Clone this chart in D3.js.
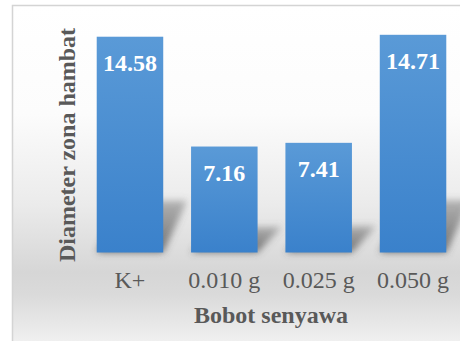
<!DOCTYPE html>
<html>
<head>
<meta charset="utf-8">
<script src="https://cdn.jsdelivr.net/npm/d3@7/dist/d3.min.js"></script>
<style>
  html, body { margin: 0; padding: 0; background: #ffffff; }
  svg { display: block; }
</style>
</head>
<body>
<script>
// Inhibition zone diameter by compound weight
const categories = ["K+", "0.010 g", "0.025 g", "0.050 g"];
const values = [14.58, 7.16, 7.41, 14.71];
const xTitle = "Bobot senyawa";
const yTitle = "Diameter zona hambat";

const W = 460, H = 341;
const svg = d3.select("body").append("svg")
  .attr("width", W).attr("height", H);

const defs = svg.append("defs");

// chart-area background: white on top, grey band at the floor, fading out below
const bg = defs.append("linearGradient").attr("id", "bgGrad")
  .attr("x1", 0).attr("y1", 0).attr("x2", 0).attr("y2", 1);
[[0, "#ffffff"], [0.3, "#fcfcfc"], [0.55, "#ebebeb"], [0.74, "#d6d6d6"], [0.8, "#dadada"], [1, "#fbfbfb"]]
  .forEach(([o, c]) => bg.append("stop").attr("offset", o).attr("stop-color", c));

const barGrad = defs.append("linearGradient").attr("id", "barGrad")
  .attr("x1", 0).attr("y1", 0).attr("x2", 0).attr("y2", 1);
barGrad.append("stop").attr("offset", 0).attr("stop-color", "#5a9ad7");
barGrad.append("stop").attr("offset", 1).attr("stop-color", "#3a81cb");

const blur = defs.append("filter").attr("id", "shadowBlur")
  .attr("x", "-50%").attr("y", "-50%").attr("width", "200%").attr("height", "200%");
blur.append("feGaussianBlur").attr("stdDeviation", 3.5);

const shGrad = defs.append("linearGradient").attr("id", "shGrad")
  .attr("x1", 0).attr("y1", 1).attr("x2", 0).attr("y2", 0);
shGrad.append("stop").attr("offset", 0).attr("stop-color", "#4a4a4a").attr("stop-opacity", 0.75);
shGrad.append("stop").attr("offset", 1).attr("stop-color", "#6a6a6a").attr("stop-opacity", 0.45);

// frame
svg.append("rect")
  .attr("x", 12.5).attr("y", 5.5)
  .attr("width", W + 20).attr("height", H + 20)
  .attr("fill", "url(#bgGrad)")
  .attr("stroke", "#d4d4d4").attr("stroke-width", 1.5);

const x = d3.scaleBand()
  .domain(categories)
  .range([82.8, 460.2])
  .paddingInner(0.295)
  .paddingOuter(0.1475);

const y = d3.scaleLinear()
  .domain([0, 16])
  .range([252.5, 15.7]);

const data = categories.map((c, i) => ({ c, v: values[i] }));

// perspective shadows cast up and to the right
svg.append("g").selectAll("path")
  .data(data)
  .join("path")
  .attr("filter", "url(#shadowBlur)")
  .attr("fill", "url(#shGrad)")
  .attr("d", d => {
    const x0 = x(d.c), x1 = x0 + x.bandwidth();
    const base = y(0);
    const sh = (y(0) - y(d.v)) * 0.24;
    const dx = 24;
    return `M${x0},${base}L${x1},${base}L${x1 + dx},${base - sh}L${x0 + dx},${base - sh}Z`;
  });

// bars
svg.append("g").selectAll("rect")
  .data(data)
  .join("rect")
  .attr("x", d => x(d.c))
  .attr("y", d => y(d.v))
  .attr("width", x.bandwidth())
  .attr("height", d => y(0) - y(d.v))
  .attr("fill", "url(#barGrad)");

// value labels inside the bars
svg.append("g").selectAll("text")
  .data(data)
  .join("text")
  .attr("x", d => x(d.c) + x.bandwidth() / 2)
  .attr("y", d => y(d.v) + 34)
  .attr("text-anchor", "middle")
  .attr("font-family", "'Liberation Serif', 'Times New Roman', serif")
  .attr("font-weight", "bold")
  .attr("font-size", 24)
  .attr("fill", "#ffffff")
  .text(d => d.v.toFixed(2));

// category axis (no line, no ticks)
const xAxis = svg.append("g")
  .attr("transform", `translate(0,${y(0)})`)
  .call(d3.axisBottom(x).tickSize(0).tickPadding(0));
xAxis.select(".domain").remove();
xAxis.selectAll("text")
  .attr("dy", null)
  .attr("y", 35)
  .attr("font-family", "'Liberation Serif', 'Times New Roman', serif")
  .attr("font-size", 24)
  .attr("fill", "#595959");

// axis titles
svg.append("text")
  .attr("x", 271)
  .attr("y", 323)
  .attr("text-anchor", "middle")
  .attr("font-family", "'Liberation Serif', 'Times New Roman', serif")
  .attr("font-weight", "bold")
  .attr("font-size", 24)
  .attr("fill", "#595959")
  .text(xTitle);

svg.append("text")
  .attr("transform", "translate(75,145) rotate(-90)")
  .attr("text-anchor", "middle")
  .attr("font-family", "'Liberation Serif', 'Times New Roman', serif")
  .attr("font-weight", "bold")
  .attr("font-size", 24)
  .attr("fill", "#595959")
  .text(yTitle);
</script>
</body>
</html>
